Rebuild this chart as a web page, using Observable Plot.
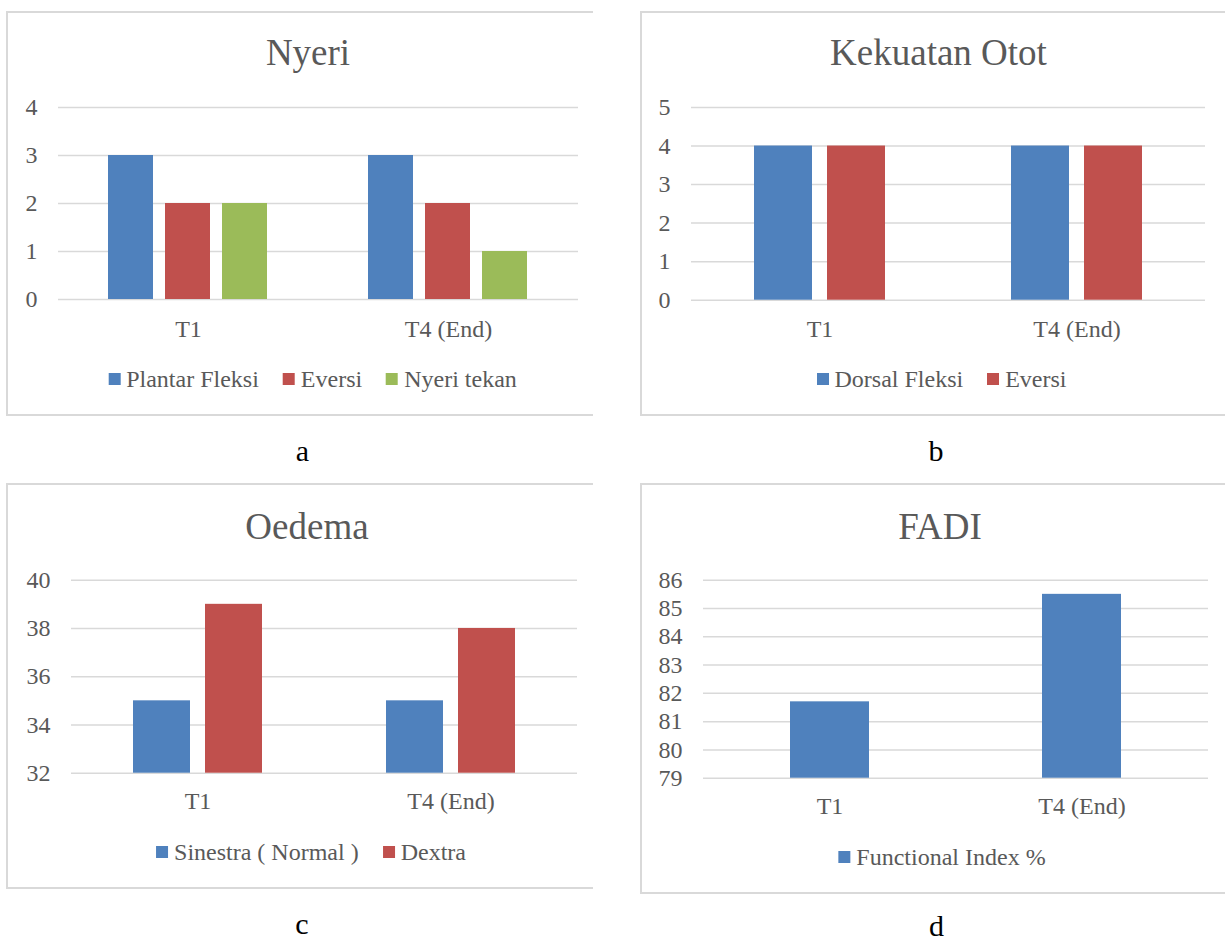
<!DOCTYPE html>
<html><head><meta charset="utf-8">
<script src="https://cdn.jsdelivr.net/npm/d3@7"></script>
<script src="https://cdn.jsdelivr.net/npm/@observablehq/plot@0.6"></script>
<style>
body{margin:0;background:#fff;width:1225px;height:940px;position:relative;overflow:hidden;font-family:"Liberation Serif",serif;}
.box{position:absolute;border-left:2px solid #d9d9d9;border-top:2px solid #d9d9d9;border-bottom:2px solid #d9d9d9;box-sizing:border-box;}
.title{position:absolute;font-family:"Liberation Serif",serif;font-size:37px;line-height:1;color:#595959;white-space:nowrap;transform:translateX(-50%);}
.legend{position:absolute;display:flex;align-items:center;font-family:"Liberation Serif",serif;font-size:24px;line-height:1;color:#595959;white-space:nowrap;transform:translateX(-50%);}
.legend .item{display:flex;align-items:center;margin-right:24px;}
.legend .item:last-child{margin-right:0;}
.legend .sw{width:12px;height:12px;margin-right:6px;}
.letter{position:absolute;font-family:"Liberation Serif",serif;font-size:30px;line-height:0.8;color:#000;transform:translateX(-50%);}
.chart{position:absolute;}
.chart svg{display:block;}
</style></head>
<body>
<script>
// ---- data ----
const categories = ["T1", "T4 (End)"];
const colors = ["#4f81bd", "#c0504d", "#9bbb59"];

const nyeriTitle = "Nyeri";
const nyeriSeries = ["Plantar Fleksi", "Eversi", "Nyeri tekan"];
const nyeriValues = [[3, 3], [2, 2], [2, 1]];
const nyeriTicks = [0, 1, 2, 3, 4];

const kekuatanTitle = "Kekuatan Otot";
const kekuatanSeries = ["Dorsal Fleksi", "Eversi"];
const kekuatanValues = [[4, 4], [4, 4]];
const kekuatanTicks = [0, 1, 2, 3, 4, 5];

const oedemaTitle = "Oedema";
const oedemaSeries = ["Sinestra ( Normal )", "Dextra"];
const oedemaValues = [[35, 35], [39, 38]];
const oedemaTicks = [32, 34, 36, 38, 40];

const fadiTitle = "FADI";
const fadiSeries = ["Functional Index %"];
const fadiValues = [[81.7, 85.5]];
const fadiTicks = [79, 80, 81, 82, 83, 84, 85, 86];

const panelLetters = ["a", "b", "c", "d"];

// ---- helpers ----
function el(cls, css, text) {
  const d = document.createElement("div");
  d.className = cls;
  Object.assign(d.style, css);
  if (text != null) d.textContent = text;
  document.body.appendChild(d);
  return d;
}
function legend(series, cx, top) {
  const lg = el("legend", {left: cx + "px", top: top + "px"});
  series.forEach((s, i) => {
    const it = document.createElement("div"); it.className = "item";
    const sw = document.createElement("div"); sw.className = "sw"; sw.style.background = colors[i];
    const tx = document.createElement("span"); tx.textContent = s;
    it.appendChild(sw); it.appendChild(tx); lg.appendChild(it);
  });
}
const baseStyle = {fontFamily: "'Liberation Serif', serif", fontSize: "24px", color: "#595959", background: "transparent", overflow: "visible"};
const fmt = d => String(d);

function rowsOf(series, values) {
  const rows = [];
  series.forEach((s, i) => categories.forEach((c, j) => rows.push({cat: c, series: s, value: values[i][j]})));
  return rows;
}
function grouped(series, values, ticks, o) {
  const rows = rowsOf(series, values);
  const base = ticks[0];
  return Plot.plot({
    width: o.w, height: o.h,
    marginLeft: o.ml, marginRight: o.mr, marginTop: o.mt, marginBottom: o.mb,
    style: baseStyle,
    fx: {domain: categories, padding: 0, label: null, tickSize: 0, tickPadding: o.xtp, axis: "bottom"},
    x: {domain: series, paddingInner: o.pi, paddingOuter: o.po, axis: null},
    y: {domain: [ticks[0], ticks[ticks.length - 1]], ticks: ticks, tickFormat: fmt, label: null, tickSize: 0, tickPadding: 21},
    color: {domain: series, range: colors},
    marks: [
      Plot.gridY(ticks, {stroke: "#d9d9d9", strokeOpacity: 1, strokeWidth: 1.5}),
      Plot.barY(rows, {fx: "cat", x: "series", y1: base, y2: "value", fill: "series"})
    ]
  });
}
function single(series, values, ticks, o) {
  const rows = rowsOf(series, values);
  const base = ticks[0];
  return Plot.plot({
    width: o.w, height: o.h,
    marginLeft: o.ml, marginRight: o.mr, marginTop: o.mt, marginBottom: o.mb,
    style: baseStyle,
    x: {domain: categories, paddingInner: o.pi, paddingOuter: o.po, label: null, tickSize: 0, tickPadding: o.xtp},
    y: {domain: [ticks[0], ticks[ticks.length - 1]], ticks: ticks, tickFormat: fmt, label: null, tickSize: 0, tickPadding: 21},
    color: {domain: series, range: colors},
    marks: [
      Plot.gridY(ticks, {stroke: "#d9d9d9", strokeOpacity: 1, strokeWidth: 1.5}),
      Plot.barY(rows, {x: "cat", y1: base, y2: "value", fill: "series"})
    ]
  });
}
function place(svg, left, top) {
  const d = el("chart", {left: left + "px", top: top + "px"});
  d.appendChild(svg);
}

// ---- boxes ----
el("box", {left: "6px", top: "11px", width: "587px", height: "405px"});
el("box", {left: "640px", top: "11px", width: "585px", height: "405px"});
el("box", {left: "6px", top: "483px", width: "587px", height: "406px"});
el("box", {left: "640px", top: "483px", width: "585px", height: "411px"});

// ---- titles ----
el("title", {left: "308px", top: "34px"}, nyeriTitle);
el("title", {left: "938.5px", top: "34px"}, kekuatanTitle);
el("title", {left: "307px", top: "508px"}, oedemaTitle);
el("title", {left: "940px", top: "508px"}, fadiTitle);

// ---- charts ----
place(grouped(nyeriSeries, nyeriValues, nyeriTicks,
  {w: 586, h: 260, ml: 51, mr: 15, mt: 17, mb: 51, pi: 0.209, po: 0.865, xtp: 20}), 7, 90);
place(grouped(kekuatanSeries, kekuatanValues, kekuatanTicks,
  {w: 585, h: 260, ml: 51, mr: 20, mt: 17, mb: 50.3, pi: 0.212, po: 0.866, xtp: 19.3}), 640, 90);
place(grouped(oedemaSeries, oedemaValues, oedemaTicks,
  {w: 586, h: 260, ml: 63, mr: 16, mt: 16.7, mb: 50.3, pi: 0.214, po: 0.855, xtp: 18.3}), 7, 563);
place(single(fadiSeries, fadiValues, fadiTicks,
  {w: 585, h: 265, ml: 63, mr: 17, mt: 16.7, mb: 50.3, pi: 0.688, po: 0.344, xtp: 18.3}), 640, 563);

// ---- legends ----
legend(nyeriSeries, 312.5, 366.9);
legend(kekuatanSeries, 941.5, 366.9);
legend(oedemaSeries, 311, 839.9);
legend(fadiSeries, 942, 844.9);

// ---- panel letters ----
el("letter", {left: "302.5px", top: "438.9px"}, panelLetters[0]);
el("letter", {left: "936px", top: "438.9px"}, panelLetters[1]);
el("letter", {left: "302px", top: "912.4px"}, panelLetters[2]);
el("letter", {left: "936.5px", top: "913.5px"}, panelLetters[3]);
</script>
</body></html>
